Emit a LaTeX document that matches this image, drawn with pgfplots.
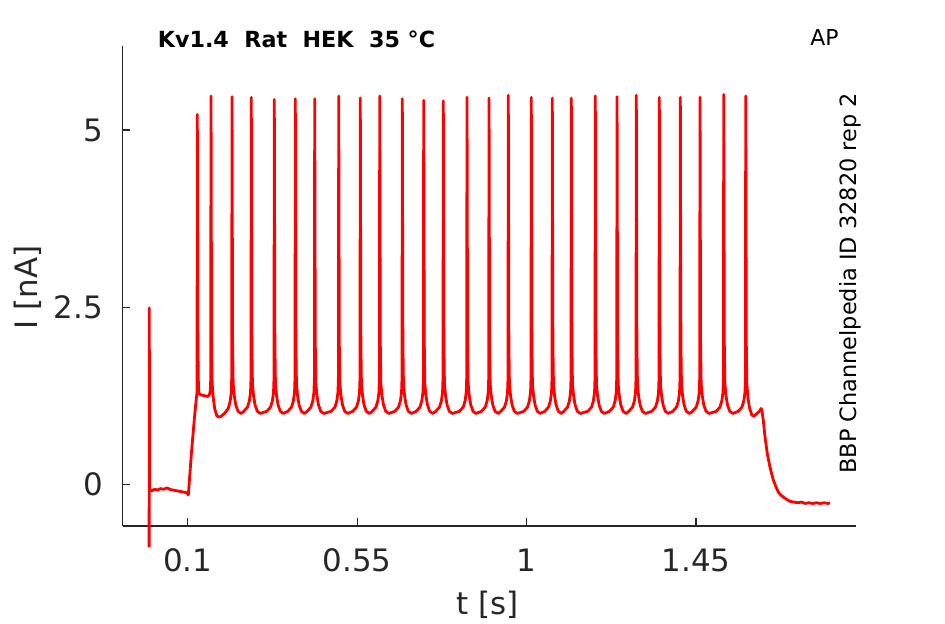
\documentclass[border=0pt]{standalone}
\usepackage{pgfplots}
\pgfplotsset{compat=1.18}
\usepackage{fontspec}
\setmainfont{DejaVu Sans}
\definecolor{axgray}{RGB}{38,38,38}
\begin{document}
\begin{tikzpicture}
\path[use as bounding box] (0,0) rectangle (945bp,624bp);
\begin{axis}[
 at={(122.5bp,98bp)}, anchor=south west,
 scale only axis, width=733.5bp, height=480bp,
 xmin=-0.0732, xmax=1.875, ymin=-0.588, ymax=6.185,
 axis x line=bottom, axis y line=left,
 axis line style={-, draw=axgray, line width=1.1bp},
 tick align=inside, major tick length=7.7bp,
 tick style={draw=axgray, line width=1.1bp},
 xtick={0.1,0.55,1,1.45},
 ytick={0,2.5,5},
 /pgf/number format/assume math mode=true,
 /pgf/number format/fixed,
 ticklabel style={font=\fontsize{31}{31}\selectfont, text=axgray},
 xticklabel style={anchor=north, inner sep=0pt, yshift=-22.5bp},
 yticklabel style={anchor=east, inner sep=0pt, xshift=-19.5bp},
 clip=false,
]
\addplot[red, line width=2.8bp, line join=round] coordinates {
(-0.0025,-0.89) (-0.0020,2.49) (-0.0015,-0.08)
(0.005,-0.09) (0.012,-0.07) (0.020,-0.08) (0.028,-0.06) (0.036,-0.07) (0.045,-0.05)
(0.052,-0.07) (0.060,-0.08) (0.070,-0.09) (0.080,-0.10) (0.090,-0.11) (0.098,-0.12)
(0.1016,-0.15) (0.1100,0.45) (0.1180,0.95) (0.1230,1.22) (0.1248,1.30)
(0.1255,5.22)
(0.1270,2.0) (0.1285,1.35) (0.1300,1.28) (0.1360,1.26) (0.1450,1.25) (0.1540,1.24)
(0.1580,1.27) (0.1600,1.32) (0.1611,1.48)
(0.1619,5.48)
(0.1634,2.0) (0.1649,1.42) (0.1679,1.22) (0.1719,1.06) (0.1779,0.96) (0.1859,0.95)
(0.1977,1.0) (0.2077,1.07) (0.2127,1.17) (0.2157,1.30) (0.2169,1.50)
(0.2177,5.47)
(0.2192,2.0) (0.2207,1.42) (0.2237,1.25) (0.2277,1.12) (0.2337,1.03) (0.2417,1.00)
(0.2489,1.03) (0.2589,1.09) (0.2639,1.18) (0.2669,1.30) (0.2681,1.50)
(0.2689,5.46)
(0.2704,2.0) (0.2719,1.42) (0.2749,1.25) (0.2789,1.12) (0.2849,1.03) (0.2929,1.00)
(0.3100,1.03) (0.3200,1.09) (0.3250,1.18) (0.3280,1.30) (0.3292,1.50)
(0.3300,5.43)
(0.3315,2.0) (0.3330,1.42) (0.3360,1.25) (0.3400,1.12) (0.3460,1.03) (0.3540,1.00)
(0.3658,1.03) (0.3758,1.09) (0.3808,1.18) (0.3838,1.30) (0.3850,1.50)
(0.3858,5.44)
(0.3873,2.0) (0.3888,1.42) (0.3918,1.25) (0.3958,1.12) (0.4018,1.03) (0.4098,1.00)
(0.4173,1.03) (0.4273,1.09) (0.4323,1.18) (0.4353,1.30) (0.4365,1.50)
(0.4373,5.44)
(0.4388,2.0) (0.4403,1.42) (0.4433,1.25) (0.4473,1.12) (0.4533,1.03) (0.4613,1.00)
(0.4811,1.03) (0.4911,1.09) (0.4961,1.18) (0.4991,1.30) (0.5003,1.50)
(0.5011,5.48)
(0.5026,2.0) (0.5041,1.42) (0.5071,1.25) (0.5111,1.12) (0.5171,1.03) (0.5251,1.00)
(0.5384,1.03) (0.5484,1.09) (0.5534,1.18) (0.5564,1.30) (0.5576,1.50)
(0.5584,5.45)
(0.5599,2.0) (0.5614,1.42) (0.5644,1.25) (0.5684,1.12) (0.5744,1.03) (0.5824,1.00)
(0.5900,1.03) (0.6000,1.09) (0.6050,1.18) (0.6080,1.30) (0.6092,1.50)
(0.6100,5.48)
(0.6115,2.0) (0.6130,1.42) (0.6160,1.25) (0.6200,1.12) (0.6260,1.03) (0.6340,1.00)
(0.6500,1.03) (0.6600,1.09) (0.6650,1.18) (0.6680,1.30) (0.6692,1.50)
(0.6700,5.44)
(0.6715,2.0) (0.6730,1.42) (0.6760,1.25) (0.6800,1.12) (0.6860,1.03) (0.6940,1.00)
(0.7068,1.03) (0.7168,1.09) (0.7218,1.18) (0.7248,1.30) (0.7260,1.50)
(0.7268,5.42)
(0.7283,2.0) (0.7298,1.42) (0.7328,1.25) (0.7368,1.12) (0.7428,1.03) (0.7508,1.00)
(0.7589,1.03) (0.7689,1.09) (0.7739,1.18) (0.7769,1.30) (0.7781,1.50)
(0.7789,5.41)
(0.7804,2.0) (0.7819,1.42) (0.7849,1.25) (0.7889,1.12) (0.7949,1.03) (0.8029,1.00)
(0.8218,1.03) (0.8318,1.09) (0.8368,1.18) (0.8398,1.30) (0.8410,1.50)
(0.8418,5.46)
(0.8433,2.0) (0.8448,1.42) (0.8478,1.25) (0.8518,1.12) (0.8578,1.03) (0.8658,1.00)
(0.8803,1.03) (0.8903,1.09) (0.8953,1.18) (0.8983,1.30) (0.8995,1.50)
(0.9003,5.45)
(0.9018,2.0) (0.9033,1.42) (0.9063,1.25) (0.9103,1.12) (0.9163,1.03) (0.9243,1.00)
(0.9315,1.03) (0.9415,1.09) (0.9465,1.18) (0.9495,1.30) (0.9507,1.50)
(0.9515,5.49)
(0.9530,2.0) (0.9545,1.42) (0.9575,1.25) (0.9615,1.12) (0.9675,1.03) (0.9755,1.00)
(0.9926,1.03) (1.0026,1.09) (1.0076,1.18) (1.0106,1.30) (1.0118,1.50)
(1.0126,5.46)
(1.0141,2.0) (1.0156,1.42) (1.0186,1.25) (1.0226,1.12) (1.0286,1.03) (1.0366,1.00)
(1.0484,1.03) (1.0584,1.09) (1.0634,1.18) (1.0664,1.30) (1.0676,1.50)
(1.0684,5.45)
(1.0699,2.0) (1.0714,1.42) (1.0744,1.25) (1.0784,1.12) (1.0844,1.03) (1.0924,1.00)
(1.0989,1.03) (1.1089,1.09) (1.1139,1.18) (1.1169,1.30) (1.1181,1.50)
(1.1189,5.45)
(1.1204,2.0) (1.1219,1.42) (1.1249,1.25) (1.1289,1.12) (1.1349,1.03) (1.1429,1.00)
(1.1626,1.03) (1.1726,1.09) (1.1776,1.18) (1.1806,1.30) (1.1818,1.50)
(1.1826,5.48)
(1.1841,2.0) (1.1856,1.42) (1.1886,1.25) (1.1926,1.12) (1.1986,1.03) (1.2066,1.00)
(1.2203,1.03) (1.2303,1.09) (1.2353,1.18) (1.2383,1.30) (1.2395,1.50)
(1.2403,5.47)
(1.2418,2.0) (1.2433,1.42) (1.2463,1.25) (1.2503,1.12) (1.2563,1.03) (1.2643,1.00)
(1.2715,1.03) (1.2815,1.09) (1.2865,1.18) (1.2895,1.30) (1.2907,1.50)
(1.2915,5.49)
(1.2930,2.0) (1.2945,1.42) (1.2975,1.25) (1.3015,1.12) (1.3075,1.03) (1.3155,1.00)
(1.3326,1.03) (1.3426,1.09) (1.3476,1.18) (1.3506,1.30) (1.3518,1.50)
(1.3526,5.46)
(1.3541,2.0) (1.3556,1.42) (1.3586,1.25) (1.3626,1.12) (1.3686,1.03) (1.3766,1.00)
(1.3884,1.03) (1.3984,1.09) (1.4034,1.18) (1.4064,1.30) (1.4076,1.50)
(1.4084,5.46)
(1.4099,2.0) (1.4114,1.42) (1.4144,1.25) (1.4184,1.12) (1.4244,1.03) (1.4324,1.00)
(1.4407,1.03) (1.4507,1.09) (1.4557,1.18) (1.4587,1.30) (1.4599,1.50)
(1.4607,5.46)
(1.4622,2.0) (1.4637,1.42) (1.4667,1.25) (1.4707,1.12) (1.4767,1.03) (1.4847,1.00)
(1.5037,1.03) (1.5137,1.09) (1.5187,1.18) (1.5217,1.30) (1.5229,1.50)
(1.5237,5.50)
(1.5252,2.0) (1.5267,1.42) (1.5297,1.25) (1.5337,1.12) (1.5397,1.03) (1.5477,1.00)
(1.5621,1.03) (1.5721,1.09) (1.5771,1.18) (1.5801,1.30) (1.5813,1.50)
(1.5821,5.48)
(1.5836,2.0) (1.5851,1.42) (1.5881,1.22) (1.5921,1.08) (1.5981,0.98) (1.6030,0.96)
(1.6100,0.99) (1.6160,1.02) (1.6200,1.04) (1.6227,1.07) (1.6250,1.05) (1.6288,0.90)
(1.6333,0.67) (1.6394,0.43) (1.6466,0.24) (1.6554,0.06) (1.6620,-0.03) (1.6687,-0.11)
(1.6750,-0.15) (1.6819,-0.18) (1.6900,-0.21) (1.6997,-0.24) (1.71,-0.25) (1.72,-0.26)
(1.73,-0.25) (1.74,-0.27) (1.75,-0.26) (1.76,-0.27) (1.77,-0.26) (1.78,-0.27)
(1.79,-0.26) (1.80,-0.27) (1.8059,-0.26)
};
\end{axis}
\node[inner sep=0pt, font=\bfseries\fontsize{22.3}{22.3}\selectfont] at (296.5bp,584.8bp) {Kv1.4\ \ Rat\ \ HEK\ \ 35 °C};
\node[inner sep=0pt, font=\fontsize{22}{22}\selectfont] at (824.5bp,586bp) {AP};
\node[inner sep=0pt, rotate=90, font=\fontsize{22.5}{22.5}\selectfont] at (850.8bp,340.7bp) {BBP Channelpedia ID 32820 rep 2};
\node[inner sep=0pt, rotate=90, text=axgray, font=\fontsize{31}{31}\selectfont] at (28.3bp,336.5bp) {I [nA]};
\node[inner sep=0pt, text=axgray, font=\fontsize{31}{31}\selectfont] at (487.5bp,19.2bp) {t [s]};
\end{tikzpicture}
\end{document}
